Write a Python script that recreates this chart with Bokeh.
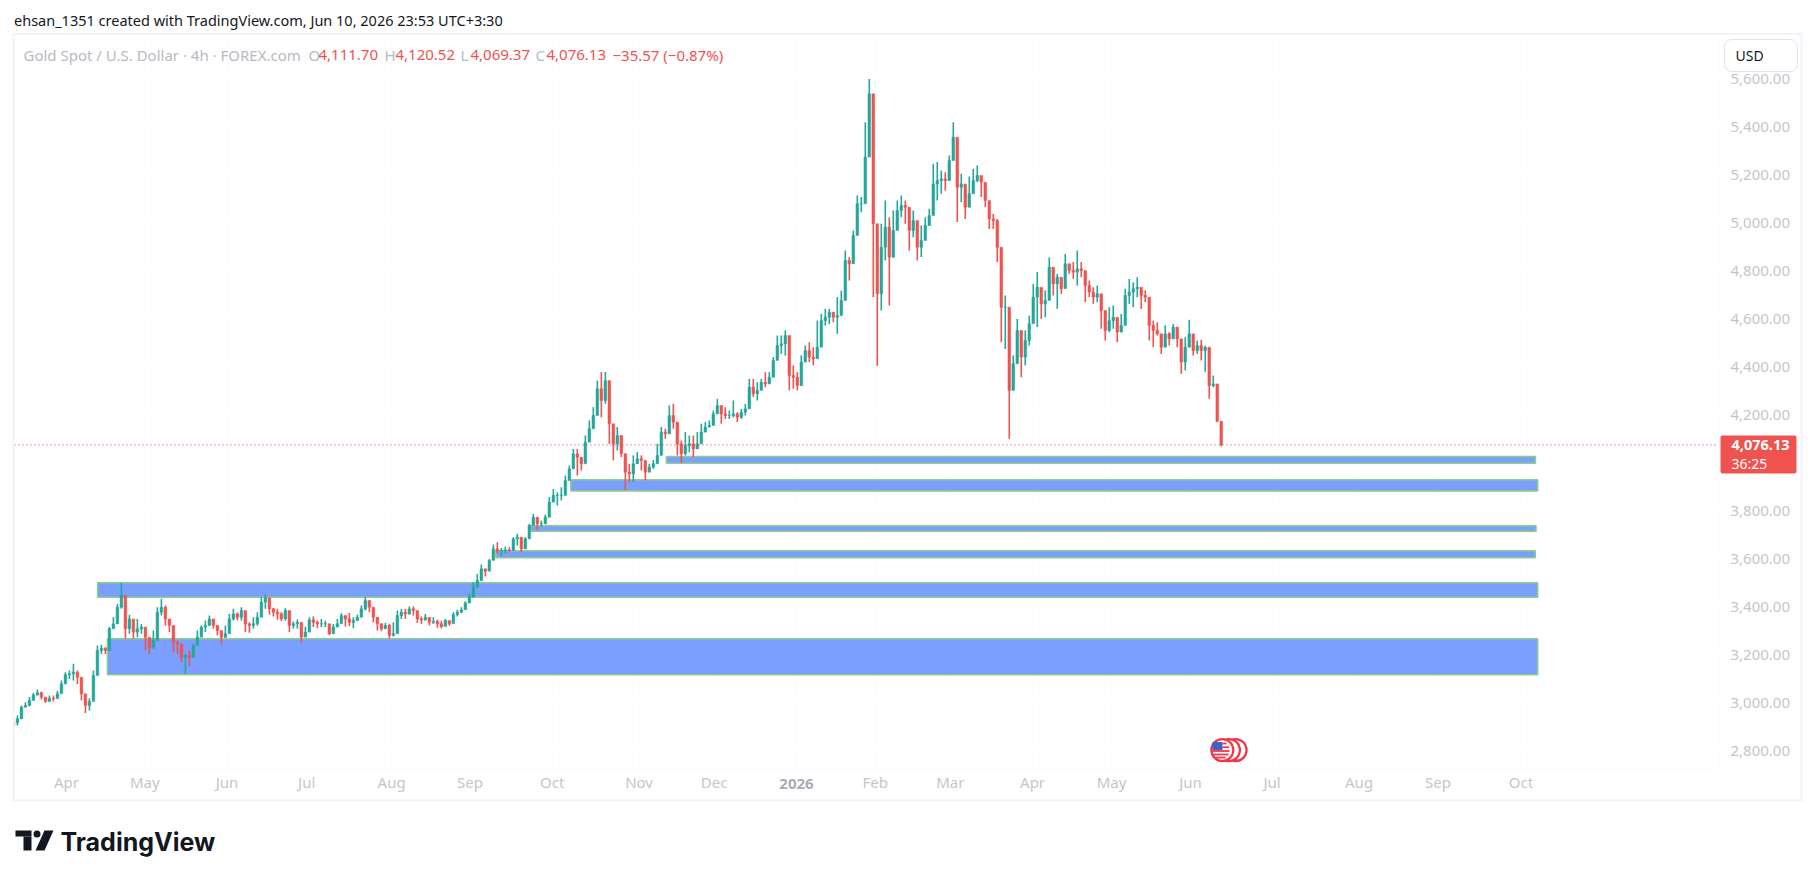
import numpy as np
import pandas as pd
from bokeh.plotting import figure
from bokeh.layouts import column
from bokeh.models import (ColumnDataSource, Range1d, FixedTicker, NumeralTickFormatter, Label, Span,
                          BoxAnnotation, PolyAnnotation)
from bokeh.embed import file_html
from bokeh.resources import INLINE

# ---------- data ----------
bar_close = [
2917,2933,2982,2989,3010,3033,3042,3024,3006,3019,3017,3038,3079,3117,3121,3128,3107,3038,2989,3006,
3114,3218,3228,3218,3309,3329,3399,3448,3309,3350,3295,3309,3316,3274,3232,3260,3378,3399,3350,3323,
3253,3246,3190,3197,3190,3239,3274,3316,3323,3350,3323,3302,3274,3288,3350,3371,3357,3385,3329,3323,
3330,3357,3420,3438,3392,3378,3371,3350,3385,3323,3330,3336,3274,3295,3346,3336,3330,3330,3330,3288,
3316,3330,3364,3350,3336,3343,3357,3392,3427,3399,3357,3330,3309,3323,3281,3288,3364,3378,3371,3392,
3385,3350,3346,3357,3336,3340,3330,3318,3343,3330,3368,3378,3388,3416,3441,3482,3510,3559,3549,3594,
3642,3633,3635,3638,3635,3684,3691,3642,3684,3740,3774,3746,3746,3774,3837,3865,3865,3865,3927,3976,
4038,4024,3997,4087,4143,4198,4310,4261,4344,4164,4080,4115,4039,3962,3955,3997,4018,4011,3962,3983,
3997,4032,4129,4122,4198,4171,4080,4039,4073,4080,4059,4080,4129,4150,4157,4205,4240,4205,4198,4198,
4205,4191,4212,4226,4317,4289,4303,4337,4330,4358,4428,4490,4497,4532,4365,4358,4323,4421,4469,4442,
4435,4483,4594,4608,4629,4608,4615,4678,4845,4831,4949,5081,5081,5276,5540,4998,4706,4900,4984,4858,
4970,5053,5074,5067,4970,5011,4900,4928,4991,5032,5164,5178,5185,5178,5262,5359,5150,5164,5067,5123,
5178,5199,5171,5095,5018,5011,4900,4650,4650,4303,4414,4553,4442,4511,4581,4692,4733,4664,4678,4817,
4747,4775,4727,4831,4803,4796,4810,4803,4740,4713,4692,4706,4636,4553,4594,4608,4546,4574,4699,4713,
4727,4733,4699,4692,4574,4553,4539,4483,4539,4518,4567,4518,4421,4483,4539,4469,4490,4469,4483,4323,
4330,4175,4076.13]
bar_high = [
2922,2947,2989,3003,3024,3042,3056,3047,3024,3031,3031,3051,3093,3128,3135,3163,3135,3056,3017,3019,
3135,3239,3242,3232,3316,3357,3413,3500,3371,3367,3322,3350,3329,3309,3260,3302,3399,3434,3406,3350,
3281,3260,3239,3204,3218,3246,3302,3323,3343,3364,3350,3323,3295,3323,3371,3392,3378,3399,3357,3336,
3357,3378,3441,3452,3402,3396,3392,3378,3395,3357,3339,3348,3309,3318,3357,3361,3343,3350,3343,3316,
3329,3350,3374,3364,3375,3357,3368,3406,3441,3427,3378,3357,3330,3334,3330,3336,3385,3392,3392,3402,
3402,3364,3360,3371,3350,3357,3347,3343,3350,3343,3378,3388,3399,3424,3455,3503,3538,3577,3559,3600,
3660,3670,3646,3652,3649,3691,3705,3670,3691,3746,3788,3774,3760,3785,3858,3892,3878,3899,3948,3990,
4059,4059,4025,4115,4178,4233,4344,4380,4380,4275,4129,4150,4115,4018,3997,4032,4046,4032,3997,3997,
4013,4080,4150,4143,4240,4247,4164,4094,4129,4115,4115,4129,4164,4171,4178,4219,4268,4233,4233,4219,
4261,4212,4226,4247,4351,4351,4337,4351,4379,4379,4442,4532,4532,4553,4490,4407,4379,4449,4490,4504,
4483,4594,4622,4643,4643,4629,4692,4719,4886,4859,4970,5116,5109,5421,5602,5498,4949,4998,5095,5025,
5053,5095,5116,5095,5053,5053,4998,4991,5025,5060,5248,5255,5220,5213,5283,5421,5345,5206,5143,5195,
5227,5241,5192,5129,5039,5039,5018,4845,4699,4518,4449,4601,4483,4553,4615,4747,4796,4706,4720,4858,
4803,4789,4754,4872,4831,4838,4886,4838,4796,4761,4733,4740,4699,4608,4650,4657,4601,4622,4727,4768,
4754,4775,4727,4720,4685,4594,4587,4518,4574,4546,4580,4567,4476,4525,4597,4532,4511,4514,4490,4365,
4365,4290,4170]
bar_low = [
2911,2906,2940,2981,2986,3024,3031,3014,3000,3006,3006,3024,3061,3100,3100,3093,3079,3010,2958,2968,
3051,3183,3204,3204,3267,3309,3350,3392,3267,3288,3267,3274,3288,3218,3204,3225,3329,3364,3322,3295,
3211,3204,3170,3120,3153,3204,3260,3288,3295,3322,3309,3281,3243,3270,3302,3343,3343,3343,3295,3292,
3309,3322,3378,3392,3368,3360,3346,3341,3343,3295,3309,3309,3249,3277,3323,3316,3311,3316,3316,3282,
3304,3316,3346,3318,3320,3311,3343,3378,3385,3378,3336,3302,3299,3309,3267,3277,3350,3350,3350,3368,
3364,3333,3329,3343,3323,3329,3313,3310,3327,3321,3357,3360,3374,3402,3420,3468,3482,3510,3527,3577,
3621,3621,3611,3624,3628,3670,3656,3628,3642,3719,3746,3719,3735,3760,3795,3851,3823,3844,3892,3941,
4011,3948,3969,4052,4101,4184,4275,4191,4247,4080,4011,4052,4025,3888,3920,3920,3997,3969,3927,3962,
3976,4011,4108,4101,4122,4143,4032,4001,4032,4045,4025,4059,4115,4129,4150,4157,4212,4164,4184,4184,
4191,4171,4184,4198,4275,4275,4261,4310,4316,4337,4358,4435,4455,4448,4303,4310,4303,4323,4441,4421,
4407,4455,4580,4573,4580,4587,4539,4664,4761,4761,4851,4998,5046,5234,5477,4692,4405,4636,4845,4657,
4859,4998,5025,4998,4886,4942,4845,4859,4963,4991,5109,5095,5123,5136,5178,5262,5005,5088,5018,5067,
5136,5171,5109,5067,4976,4976,4838,4504,4476,4101,4309,4483,4358,4407,4490,4622,4567,4601,4608,4706,
4699,4643,4706,4789,4789,4768,4740,4775,4671,4692,4664,4671,4560,4511,4546,4560,4504,4546,4650,4664,
4650,4692,4643,4671,4511,4483,4532,4455,4483,4490,4553,4483,4372,4386,4483,4448,4455,4428,4379,4268,
4316,4170,4069.37]

month_ticks = ["2025-04-01","2025-04-30 12:00","2025-05-31 12:00","2025-06-30 12:00","2025-08-01 12:00","2025-08-31 00:00","2025-10-01",
               "2025-11-02 18:00","2025-12-01","2026-01-01","2026-01-30 18:00","2026-02-28 00:00","2026-03-31 00:00","2026-04-29 18:00",
               "2026-05-29 12:00","2026-06-29 06:00","2026-08-01","2026-08-30 18:00","2026-10-01"]
month_labels = ["Apr","May","Jun","Jul","Aug","Sep","Oct","Nov","Dec","","Feb","Mar","Apr","May","Jun","Jul","Aug","Sep","Oct"]
price_ticks = [2800,3000,3200,3400,3600,3800,4200,4400,4600,4800,5000,5200,5400,5600]

zone_top    = [3267, 3500.7, 3634, 3738.4, 3930, 4027.3]
zone_bottom = [3117, 3440.6, 3605, 3715.8, 3883, 3999.4]
zone_start  = ["2025-04-16 10:00","2025-04-12 17:00","2025-09-09 19:00","2025-09-23 00:00","2025-10-08 00:00","2025-11-13 00:00"]
zone_end    = ["2026-10-07 08:00","2026-10-07 08:00","2026-10-06 10:00","2026-10-06 17:00","2026-10-07 08:00","2026-10-06 12:00"]

last_price = 4076.13
first_open = 2905
header_title = "ehsan_1351 created with TradingView.com, Jun 10, 2026 23:53 UTC+3:30"
symbol_text = "Gold Spot / U.S. Dollar · 4h · FOREX.com"

# ---------- styles ----------
UP, DOWN = "#26a69a", "#ef5350"
AX = "#c3c6ce"
GREY = "#b7bac2"
FONT = "Noto Sans"
W, H = 1814, 877

# ---------- scales ----------
ms = lambda s: pd.Timestamp(s).value / 1e6
PX_PER_DAY = 2.654
DAY = 86400000.0
x0 = ms("2025-04-01")
xstart = x0 + (14 - 66) / PX_PER_DAY * DAY
xend = x0 + (1718 - 66) / PX_PER_DAY * DAY
USD_PER_PX = 4.17
ytop = last_price + (444.3 - 34) * USD_PER_PX
ybot = last_price + (444.3 - 768) * USD_PER_PX

p = figure(width=W, height=H, output_backend="svg", toolbar_location=None, x_axis_type="datetime",
           y_axis_location="right", x_range=Range1d(xstart, xend), y_range=Range1d(ybot, ytop),
           min_border_left=14, min_border_right=96, min_border_top=34, min_border_bottom=109,
           background_fill_color="white", border_fill_color="white", frame_align=False)
p.outline_line_color = None
p.xgrid.grid_line_color = "#fcfcfd"
p.ygrid.grid_line_color = "#fcfcfd"

tick_ms = [ms(s) for s in month_ticks]
p.xaxis.ticker = FixedTicker(ticks=tick_ms)
p.xgrid.ticker = FixedTicker(ticks=tick_ms)
p.xaxis.major_label_overrides = {t: l for t, l in zip(tick_ms, month_labels)}
p.yaxis.ticker = FixedTicker(ticks=price_ticks)
p.ygrid.ticker = FixedTicker(ticks=price_ticks)
p.yaxis.formatter = NumeralTickFormatter(format="0,0.00")
for ax in (p.xaxis[0], p.yaxis[0]):
    ax.axis_line_color = "#fafbfc"
    ax.major_tick_line_color = None
    ax.minor_tick_line_color = None
    ax.major_label_text_color = AX
    ax.major_label_text_font = FONT
    ax.major_label_text_font_size = "15px"
p.yaxis.major_label_standoff = 6
p.xaxis.major_label_standoff = -3

# ---------- zones ----------
zs = ColumnDataSource(dict(left=pd.to_datetime(zone_start), right=pd.to_datetime(zone_end), top=zone_top, bottom=zone_bottom))
p.quad(left="left", right="right", top="top", bottom="bottom", source=zs,
       fill_color="#7b9fff", line_color="#8ccf88", line_width=1.5)

# ---------- candles ----------
times = pd.date_range("2025-03-12", periods=len(bar_close), freq="2170min")
opens = [first_open] + bar_close[:-1]
cols = [UP if c >= o else DOWN for o, c in zip(opens, bar_close)]
cs = ColumnDataSource(dict(t=times, o=opens, c=bar_close, h=bar_high, l=bar_low, col=cols))
p.segment(x0="t", x1="t", y0="l", y1="h", source=cs, line_color="col", line_width=1.6)
p.vbar(x="t", width=1.0 * DAY, top="o", bottom="c", source=cs, fill_color="col", line_color="col", line_width=0.5)

p.add_layout(Span(location=last_price, dimension="width", line_color=DOWN, line_dash="1 3", line_width=1.2))

# ---------- event badge ----------
badge_t = ["2026-06-15 12:00", "2026-06-13 00:00", "2026-06-10 12:00"]
badge_price = [2803, 2803, 2803]
p.scatter(x=pd.to_datetime(badge_t), y=badge_price, size=22, marker="circle", fill_color="white",
          line_color="#f23645", line_width=2.2)

# ---------- transparent overlay page for everything outside the plot frame ----------
ov = figure(width=W, height=H, output_backend="svg", toolbar_location=None, x_range=Range1d(0, W), y_range=Range1d(H, 0),
            x_axis_type=None, y_axis_type=None, min_border=0, background_fill_color=None, border_fill_color=None,
            margin=(-H, 0, 0, 0), frame_align=False)
ov.outline_line_color = None

def cv_box(l, t, r, b, **kw):
    kw.setdefault("fill_alpha", 1)
    kw.setdefault("line_alpha", 1)
    ov.add_layout(BoxAnnotation(left=l, right=r, top=t, bottom=b, left_units="canvas", right_units="canvas",
                                top_units="canvas", bottom_units="canvas", **kw))

def cv_text(x, y, text, color, size="15px", style="normal", align="left", font=FONT):
    ov.add_layout(Label(x=x, y=y, x_units="canvas", y_units="canvas", text=text, text_color=color, text_font=font,
                        text_font_size=size, text_font_style=style, text_align=align, text_baseline="middle"))

# flag on the front badge
for cy, half, lft in [(743, 6, 1222), (746.8, 8.5, 1222), (750.5, 9, 1211), (754, 8, 1212), (757, 5, 1215)]:
    cv_box(lft, cy - 0.9, 1220 + half, cy + 0.9, fill_color="#f23645", line_color=None)
cv_box(1212, 741.5, 1222, 749.5, fill_color="#3f63c4", line_color=None)

# ---------- chart frame ----------
cv_box(13, 33.5, 1801, 800, fill_color=None, fill_alpha=0, line_color="#f0f3fa", line_width=2)

# ---------- header ----------
cv_text(13.5, 19, header_title, "#131722", "14.5px")
cv_text(23, 54, symbol_text, GREY)
for x, letter, x2, val in [(308, "O", 318, "4,111.70"), (384, "H", 395, "4,120.52"), (460, "L", 470, "4,069.37"), (535, "C", 546, "4,076.13")]:
    cv_text(x, 54, letter, GREY)
    cv_text(x2, 54, val, DOWN)
cv_text(612, 54, "−35.57 (−0.87%)", DOWN)

# ---------- USD button ----------
cv_box(1724, 39, 1797, 71, fill_color="white", line_color="#e0e3eb", line_width=1, border_radius=7)
cv_text(1735, 55, "USD", "#131722", "14px")

# ---------- last price badge ----------
cv_box(1720, 435, 1796, 473, fill_color=DOWN, line_color=None, border_radius=2)
cv_text(1731, 444, "4,076.13", "white", "14.5px", "bold")
cv_text(1731, 463, "36:25", "white", "14px")

# ---------- 2026 bold tick ----------
cv_text(796, 783, "2026", "#a9acb5", "15px", "bold", "center")

# ---------- logo ----------
LOGO = "#131722"
cv_box(15, 830, 31, 836, fill_color=LOGO, line_color=None)
cv_box(23, 836, 31, 850, fill_color=LOGO, line_color=None)
cv_box(33, 830, 40, 837, fill_color=LOGO, line_color=None, border_radius=4)
ov.add_layout(PolyAnnotation(xs=[44, 53, 44, 35], ys=[830, 830, 850, 850], xs_units="canvas", ys_units="canvas",
                             fill_color=LOGO, fill_alpha=1, line_color=None))
cv_text(60, 841, "TradingView", LOGO, "25px", "bold", font="Inter")

page = column(p, ov)
open("out.html", "w").write(file_html(page, INLINE))
